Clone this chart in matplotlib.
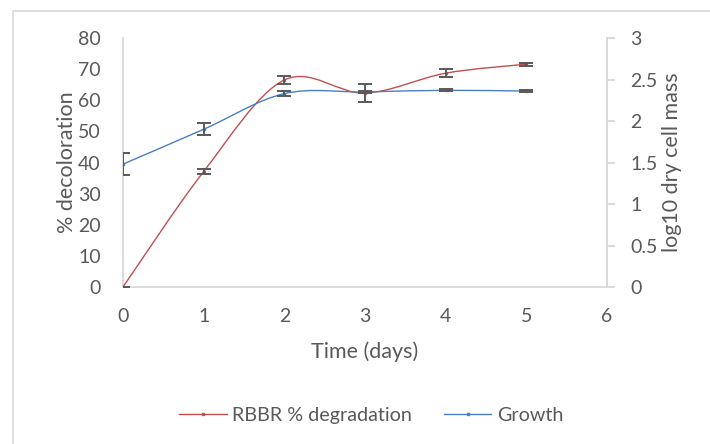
import numpy as np
import matplotlib.pyplot as plt
from matplotlib.path import Path
from matplotlib.patches import PathPatch, Rectangle
from matplotlib.lines import Line2D

plt.rcParams['font.family'] = ['Lato', 'DejaVu Sans']

days = [0, 1, 2, 3, 4, 5]
decoloration = [0, 37.1, 66.5, 62.3, 68.7, 71.6]
decoloration_err = [0, 0.9, 1.3, 2.8, 1.2, 0.5]
growth = [1.48, 1.90, 2.33, 2.35, 2.37, 2.36]
growth_err = [0.13, 0.07, 0.03, 0.01, 0.01, 0.01]

RED = '#C0504D'
BLUE = '#4A7EC4'
TXT = '#595959'
GRID = '#D9D9D9'


def smooth_path(x, y):
    # excel style smoothed line: catmull-rom segments as cubic beziers
    x = np.asarray(x, float)
    y = np.asarray(y, float)
    n = len(x)
    verts = [(x[0], y[0])]
    codes = [Path.MOVETO]
    for i in range(n - 1):
        i0 = max(i - 1, 0)
        i3 = min(i + 2, n - 1)
        c1 = (x[i] + (x[i + 1] - x[i0]) / 6, y[i] + (y[i + 1] - y[i0]) / 6)
        c2 = (x[i + 1] - (x[i3] - x[i]) / 6, y[i + 1] - (y[i3] - y[i]) / 6)
        verts += [c1, c2, (x[i + 1], y[i + 1])]
        codes += [Path.CURVE4] * 3
    return Path(verts, codes)


fig = plt.figure(figsize=(7.1, 4.44), dpi=100)
ax = fig.add_axes([0.1732, 0.3536, 0.6817, 0.5608])
ax2 = ax.twinx()

ax.add_patch(PathPatch(smooth_path(days, decoloration), fill=False,
                       edgecolor=RED, lw=1.0, zorder=3))
ax.plot(days, decoloration, 's', color=RED, ms=2, zorder=4)
ax.errorbar(days, decoloration, yerr=decoloration_err, fmt='none',
            ecolor=TXT, elinewidth=1.4, capsize=5, capthick=1.4, zorder=5)

ax2.add_patch(PathPatch(smooth_path(days, growth), fill=False,
                        edgecolor=BLUE, lw=1.0, zorder=3))
ax2.plot(days, growth, 's', color=BLUE, ms=2, zorder=4)
eb = ax2.errorbar(days, growth, yerr=growth_err, fmt='none',
                  ecolor=TXT, elinewidth=1.4, capsize=5, capthick=1.4, zorder=5)
for cap in eb[1]:
    cap.set_clip_path(ax2.patch)

ax.set_xlim(0, 6)
ax.set_ylim(0, 80)
ax2.set_ylim(0, 3)
ax.set_xticks(range(7))
ax.set_yticks(range(0, 81, 10))
ax2.set_yticks([0, 0.5, 1, 1.5, 2, 2.5, 3])
ax2.set_yticklabels(['0', '0.5', '1', '1.5', '2', '2.5', '3'])

for a in (ax, ax2):
    a.patch.set_visible(False)
    for s in a.spines.values():
        s.set_color(GRID)
        s.set_linewidth(1.3)
    a.spines['top'].set_visible(False)
ax2.spines['left'].set_visible(False)
ax2.spines['bottom'].set_visible(False)

ax.tick_params(axis='x', length=0, pad=15, labelsize=14, labelcolor=TXT)
ax.tick_params(axis='y', length=0, pad=16, labelsize=14, labelcolor=TXT)
ax2.tick_params(axis='y', length=6, width=1.3, color=GRID, pad=11,
                labelsize=14, labelcolor=TXT)

ax.set_xlabel('Time (days)', fontsize=15.5, color=TXT, labelpad=12)
ax.set_ylabel('% decoloration', fontsize=15.5, color=TXT, labelpad=1)
ax2.set_ylabel('log10 dry cell mass', fontsize=15.5, color=TXT, labelpad=3)

handles = [Line2D([], [], color=RED, lw=1.0, marker='s', ms=2),
           Line2D([], [], color=BLUE, lw=1.0, marker='s', ms=2)]
fig.legend(handles, ['RBBR % degradation', 'Growth'], loc='center',
           bbox_to_anchor=(0.523, 0.065), ncol=2, frameon=False,
           fontsize=14.2, labelcolor=TXT, handlelength=2.4, columnspacing=1.6,
           handletextpad=0.3)

fig.patches.append(Rectangle((12.5 / 710, -0.1), 1.0, 433 / 444 + 0.1,
                             transform=fig.transFigure, fill=False,
                             edgecolor=GRID, lw=1.2))

fig.savefig('out.png', dpi=100)
